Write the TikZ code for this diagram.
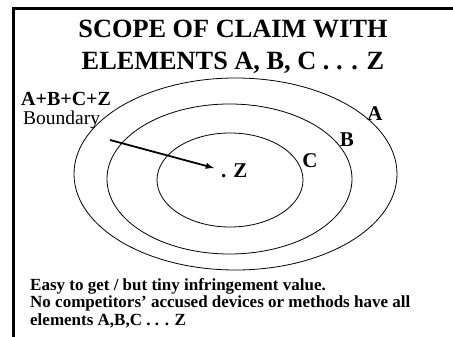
\documentclass[tikz,border=0pt]{standalone}
\usepackage{fontspec}
\setmainfont{Liberation Serif}
\begin{document}
\begin{tikzpicture}[x=1pt,y=-1pt,
  frame/.style={line width=3pt,line join=miter},
  ring/.style={line width=0.8pt},
  titletext/.style={font=\fontsize{26.3}{30}\selectfont\bfseries,anchor=base},
  ringlabel/.style={font=\fontsize{21}{24}\selectfont\bfseries},
  bodytext/.style={font=\fontsize{17}{19}\selectfont\bfseries,anchor=base west,inner sep=0pt},
  pointer/.style={line width=1.8pt,-latex}]
\useasboundingbox (0,0) rectangle (453,337);
\draw[frame] (13.5,337) -- (13.5,9) -- (453,9);
\node[titletext] (t1) at (233,38) {SCOPE OF CLAIM WITH};
\node[titletext] (t2) at (233,70) {ELEMENTS A, B, C . . . Z};
\draw[ring] (235.5,174) ellipse [x radius=161.5, y radius=96];
\draw[ring] (229.5,179) ellipse [x radius=122.5, y radius=75];
\draw[ring] (230,180) ellipse [x radius=73, y radius=47];
\node[ringlabel] (la) at (375,114) {A};
\node[ringlabel] (lb) at (347,140) {B};
\node[ringlabel] (lc) at (310,161) {C};
\node[ringlabel,anchor=base west,inner sep=0pt] (z) at (221,177) {. Z};
\node[font=\fontsize{20}{23}\selectfont\bfseries,anchor=base west,inner sep=0pt] (sum) at (21,106) {A+B+C+Z};
\node[font=\fontsize{19.5}{23}\selectfont,anchor=base west,inner sep=0pt] (bd) at (23,124.5) {Boundary};
\coordinate (ps) at (110,140);
\coordinate (pe) at (214,168);
\draw[pointer] (ps) -- (pe);
\node[bodytext] (l1) at (30,290) {Easy to get / but tiny infringement value.};
\node[bodytext] (l2) at (30,307.5) {No competitors’ accused devices or methods have all};
\node[bodytext] (l3) at (30,325) {elements A,B,C . . . Z};
\end{tikzpicture}
\end{document}
